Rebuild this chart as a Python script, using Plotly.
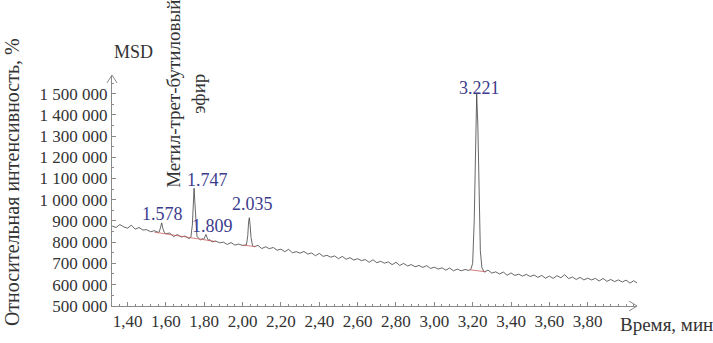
import plotly.graph_objects as go

# ---- data ----
time_min = [
    1.32, 1.34, 1.36, 1.38, 1.40, 1.42, 1.44, 1.46, 1.48, 1.50, 1.52, 1.54, 1.56,
    1.565, 1.572, 1.578, 1.584, 1.592,
    1.60, 1.62, 1.64, 1.66, 1.68, 1.70, 1.72,
    1.730, 1.738, 1.743, 1.747, 1.751, 1.756, 1.762,
    1.77, 1.78, 1.79,
    1.798, 1.804, 1.809, 1.815, 1.822,
    1.83, 1.84, 1.86, 1.88, 1.90, 1.92, 1.94, 1.96, 1.98, 2.00,
    2.020, 2.027, 2.031, 2.035, 2.039, 2.044, 2.052,
    2.06, 2.08, 2.10, 2.12, 2.14, 2.16, 2.18, 2.20, 2.22, 2.24, 2.26, 2.28, 2.30,
    2.32, 2.34, 2.36, 2.38, 2.40, 2.42, 2.44, 2.46, 2.48, 2.50, 2.52, 2.54, 2.56,
    2.58, 2.60, 2.62, 2.64, 2.66, 2.68, 2.70, 2.72, 2.74, 2.76, 2.78, 2.80, 2.82,
    2.84, 2.86, 2.88, 2.90, 2.92, 2.94, 2.96, 2.98, 3.00, 3.02, 3.04, 3.06, 3.08,
    3.10, 3.12, 3.14, 3.16, 3.18,
    3.190, 3.200, 3.208, 3.215, 3.221, 3.227, 3.233, 3.240, 3.248,
    3.26, 3.28, 3.30, 3.32, 3.34, 3.36, 3.38, 3.40, 3.42, 3.44, 3.46, 3.48, 3.50,
    3.52, 3.54, 3.56, 3.58, 3.60, 3.62, 3.64, 3.66, 3.68, 3.70, 3.72, 3.74, 3.76,
    3.78, 3.80, 3.82, 3.84, 3.86, 3.88, 3.90, 3.92, 3.94, 3.96, 3.98, 4.00, 4.02,
    4.04, 4.06,
]
intensity_thousands = [
    876, 869, 883, 872, 866, 880, 861, 869, 857, 859, 849, 854, 846,
    848, 868, 891, 866, 845,
    840, 843, 826, 836, 824, 829, 817,
    822, 880, 1000, 1054, 990, 880, 828,
    819, 811, 817,
    813, 826, 836, 821, 808,
    812, 801, 805, 797, 800, 789, 798, 786, 791, 784,
    787, 830, 890, 915, 884, 822, 783,
    778, 785, 770, 778, 769, 775, 762, 767, 755, 766, 750, 755, 748,
    756, 744, 749, 736, 747, 733, 738, 729, 735, 722, 733, 719, 727,
    716, 722, 713, 718, 705, 717, 703, 710, 701, 707, 694, 705, 690,
    700, 688, 694, 684, 690, 681, 689, 676, 682, 673, 679, 668, 678,
    665, 673, 665, 671, 667,
    671, 700, 900, 1300, 1498, 1350, 1000, 760, 680,
    659, 668, 654, 660, 650, 659, 644, 655, 643, 649, 640, 648, 638,
    645, 634, 643, 630, 640, 629, 642, 632, 647, 628, 636, 624, 634,
    622, 630, 622, 629, 617, 629, 615, 624, 614, 622, 612, 621, 607,
    618, 606,
]

# integration baselines (start/end of each segment)
baseline_times = [[1.54, 1.86], [2.00, 2.07], [3.185, 3.27]]
baseline_thousands = [[847, 803], [786, 779], [670, 660]]

peak_times = [1.578, 1.747, 1.809, 2.035, 3.221]
peak_heights_thousands = [891, 1054, 836, 915, 1498]
peak_labels = ["1.578", "1.747", "1.809", "2.035", "3.221"]
peak_label_xshift = [1, 13, 7, 3, 3]
peak_label_yshift = [9, 8, 9, 14, 6]

x_tick_values = [1.40, 1.60, 1.80, 2.00, 2.20, 2.40, 2.60, 2.80, 3.00, 3.20,
                 3.40, 3.60, 3.80]
y_tick_values = [500000, 600000, 700000, 800000, 900000, 1000000, 1100000,
                 1200000, 1300000, 1400000, 1500000]

FONT = "Times New Roman, Liberation Serif, DejaVu Serif, serif"
AXIS = "#8a8a8a"
LABEL = "#3c3c8c"
TEXT = "#333333"

fig = go.Figure()
fig.add_trace(go.Scatter(
    x=time_min, y=[v * 1000 for v in intensity_thousands],
    mode="lines", line=dict(color="#404040", width=0.8), hoverinfo="skip",
))
for bt, bv in zip(baseline_times, baseline_thousands):
    fig.add_trace(go.Scatter(
        x=bt, y=[v * 1000 for v in bv], mode="lines",
        line=dict(color="#c86060", width=0.8), hoverinfo="skip",
    ))

for t, h, lab, dx, dy in zip(peak_times, peak_heights_thousands, peak_labels,
                             peak_label_xshift, peak_label_yshift):
    fig.add_annotation(x=t, y=h * 1000, text=lab, showarrow=False,
                       xanchor="center", yanchor="middle", xshift=dx, yshift=dy,
                       font=dict(family=FONT, size=18, color=LABEL))

W, H = 525, 233  # plot area size in px
# axis arrowheads (open chevrons)
dx_px, dy_px = 5, 8
fig.add_shape(type="path", xref="paper", yref="paper",
              path=f"M {-dx_px/W} {1-dy_px/H} L 0 1 L {dx_px/W} {1-dy_px/H}",
              line=dict(color=AXIS, width=1))
fig.add_shape(type="path", xref="paper", yref="paper",
              path=f"M {1-dy_px/W} {dx_px/H} L 1 0 L {1-dy_px/W} {-dx_px/H}",
              line=dict(color=AXIS, width=1))

fig.add_annotation(xref="paper", yref="paper", x=(133-112)/W, y=(308-52)/H,
                   text="MSD", showarrow=False, xanchor="center", yanchor="middle",
                   font=dict(family=FONT, size=18, color=TEXT))
fig.add_annotation(xref="paper", yref="paper", x=(12-112)/W, y=(308-183)/H,
                   text="Относительная интенсивность, %", showarrow=False,
                   textangle=-90, xanchor="center", yanchor="middle",
                   font=dict(family=FONT, size=20, color=TEXT))
fig.add_annotation(xref="paper", yref="paper", x=(666-112)/W, y=(308-327)/H,
                   text="Время, мин", showarrow=False, xanchor="center",
                   yanchor="middle", font=dict(family=FONT, size=19, color=TEXT))
fig.add_annotation(xref="paper", yref="paper", x=(186-112)/W, y=(308-94)/H,
                   text="Метил-трет-бутиловый<br>эфир", showarrow=False,
                   textangle=-90, xanchor="center", yanchor="middle", align="center",
                   font=dict(family=FONT, size=19, color=TEXT))

fig.update_layout(
    width=713, height=343,
    margin=dict(l=112, r=76, t=75, b=35),
    paper_bgcolor="white", plot_bgcolor="white",
    showlegend=False,
    separators=", ",
    font=dict(family=FONT, size=17, color=TEXT),
)
fig.update_xaxes(
    range=[1.319, 4.057], showgrid=False, zeroline=False,
    showline=True, linecolor=AXIS, linewidth=1,
    tickmode="array", tickvals=x_tick_values, tickformat=".2f",
    ticks="inside", ticklen=4, tickcolor=AXIS,
    minor=dict(dtick=0.04, tick0=1.40, ticks="inside", ticklen=2, tickcolor=AXIS),
    tickfont=dict(family=FONT, size=17, color=TEXT),
)
fig.update_yaxes(
    range=[499000, 1588000], showgrid=False, zeroline=False,
    showline=True, linecolor=AXIS, linewidth=1,
    tickmode="array", tickvals=y_tick_values, tickformat=",d",
    ticks="inside", ticklen=4, tickcolor=AXIS,
    minor=dict(dtick=50000, ticks="inside", ticklen=2, tickcolor=AXIS),
    tickfont=dict(family=FONT, size=17, color=TEXT),
)

fig.write_html(
    "out.html",
    config={"displayModeBar": False},
    post_script="document.body.style.margin='0px';document.body.style.overflow='hidden';",
)
